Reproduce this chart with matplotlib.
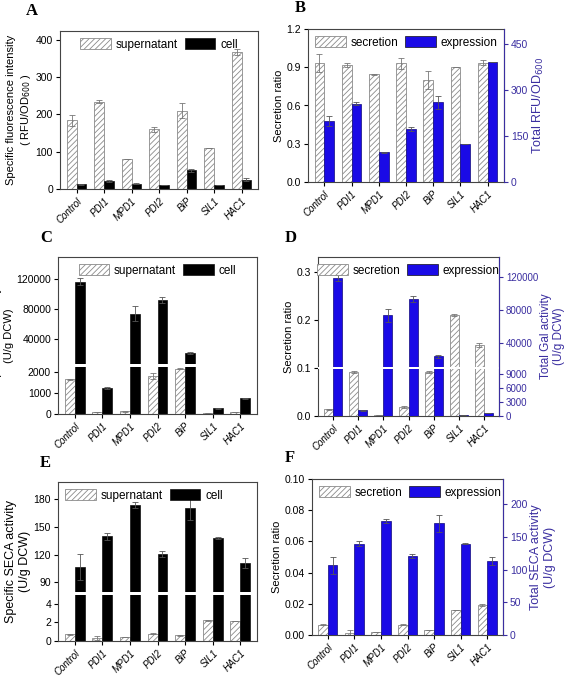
import numpy as np
import matplotlib
matplotlib.use("Agg")
import matplotlib.pyplot as plt
from matplotlib.patches import Patch

plt.rcParams['font.family'] = ['Liberation Sans', 'DejaVu Sans']
plt.rcParams['hatch.linewidth'] = 0.6
plt.rcParams['hatch.color'] = '#888888'

categories = ["Control", "PDI1", "MPD1", "PDI2", "BiP", "SIL1", "HAC1"]

A_sup = [184, 233, 80, 160, 210, 110, 366]
A_sup_err = [15, 4, 1, 7, 20, 0, 8]
A_cell = [13, 22, 14, 11, 50, 11, 25]
A_cell_err = [1, 3, 1, 1, 4, 1, 4]

B_sec = [0.93, 0.915, 0.845, 0.93, 0.80, 0.905, 0.935]
B_sec_err = [0.07, 0.015, 0.005, 0.045, 0.07, 0.0, 0.02]
B_exp = [199, 256, 97, 173, 260, 124, 392]
B_exp_err = [17, 5, 1, 6, 20, 1, 0]

C_sup = [1650, 100, 120, 1800, 2150, 60, 100]
C_sup_err = [30, 5, 5, 120, 30, 5, 5]
C_cell = [117000, 1220, 73500, 92000, 21000, 270, 750]
C_cell_err = [5000, 50, 10000, 4000, 1500, 10, 20]

D_sec = [0.014, 0.091, 0.002, 0.019, 0.091, 0.211, 0.148]
D_sec_err = [0.001, 0.002, 0.0, 0.002, 0.002, 0.002, 0.004]
D_exp = [119000, 1200, 73500, 93500, 23300, 300, 700]
D_exp_err = [4000, 50, 8000, 4000, 1500, 10, 20]

E_sup = [0.7, 0.3, 0.4, 0.8, 0.6, 2.25, 2.15]
E_sup_err = [0.05, 0.2, 0.02, 0.05, 0.05, 0.05, 0.05]
E_cell = [107, 140, 174, 121, 171, 138, 111]
E_cell_err = [14, 4, 3, 3, 13, 1, 5]

F_sec = [0.0065, 0.0015, 0.002, 0.0067, 0.0033, 0.0162, 0.0193]
F_sec_err = [0.0003, 0.0015, 0.0002, 0.0003, 0.0002, 0.0, 0.0005]
F_exp = [107, 140, 174, 121, 171, 140, 113]
F_exp_err = [13, 4, 3, 3, 13, 1, 6]

W, H = 566, 676
fig = plt.figure(figsize=(W / 100, H / 100), dpi=100)
BLUE = '#1a0ae6'
AXBLUE = '#3a2ea0'
x = np.arange(len(categories))
bw = 0.36


def add_ax(l, t, r, b):
    return fig.add_axes([l / W, 1 - b / H, (r - l) / W, (b - t) / H])


def broken_scale(ax, xs, ps, gap):
    xs = np.array(xs, float); ps = np.array(ps, float)
    fwd = lambda v: np.interp(v, xs, ps)
    inv = lambda p: np.interp(p, ps, xs)
    ax.set_yscale('function', functions=(fwd, inv))
    ax.axhspan(gap[0], gap[1], color='white', zorder=2.2, lw=0)


def style(ax, letter, lx, ly):
    ax.set_xlim(-0.6, 6.6)
    ax.set_xticks(x)
    ax.set_xticklabels(categories, rotation=45, ha='right', fontsize=7, style='italic',
                       rotation_mode='anchor')
    ax.tick_params(axis='y', labelsize=7.5, direction='out', length=3, pad=2)
    ax.tick_params(axis='x', direction='out', length=3, pad=2)
    for s in ax.spines.values():
        s.set_color('#444444'); s.set_linewidth(0.8)
    fig.text(lx / W, 1 - ly / H, letter, fontsize=12, fontweight='bold',
             family='Liberation Serif', va='center')


def hatch_bars(ax, vals, err):
    ax.bar(x - bw / 2, vals, bw, color='white', edgecolor='#8a8a8a', hatch='//////',
           linewidth=0.6, zorder=2)
    ax.errorbar(x - bw / 2, vals, yerr=err, fmt='none', ecolor='#777777', elinewidth=0.6,
                capsize=2, capthick=0.6, zorder=2.1)


def solid_bars(ax, vals, err, color):
    ax.bar(x + bw / 2, vals, bw, color=color, edgecolor='#111111' if color == 'black' else '#10087a',
           linewidth=0.5, zorder=2)
    ax.errorbar(x + bw / 2, vals, yerr=err, fmt='none', ecolor='#555555', elinewidth=0.6,
                capsize=2, capthick=0.6, zorder=2.1)


def legend(ax, labels, color, loc='upper center', bbox=None):
    h = [Patch(facecolor='white', edgecolor='#8a8a8a', hatch='//////', lw=0.6),
         Patch(facecolor=color, edgecolor='#111111', lw=0.5)]
    kw = dict(loc=loc, ncol=2, frameon=False, fontsize=8.5, handlelength=2.6,
              handleheight=1.1, columnspacing=0.6, handletextpad=0.4, borderaxespad=0.2)
    if bbox is not None:
        kw['bbox_to_anchor'] = bbox
    ax.legend(h, labels, **kw)


def right_style(ax):
    ax.tick_params(axis='y', colors=AXBLUE, labelsize=7.5, length=3, pad=2)
    ax.spines['right'].set_color(AXBLUE)
    for s in ['top', 'left', 'bottom']:
        ax.spines[s].set_visible(False)


# ---- A
ax = add_ax(60, 31, 258, 189)
hatch_bars(ax, A_sup, A_sup_err)
solid_bars(ax, A_cell, A_cell_err, 'black')
ax.set_ylim(0, 423)
ax.set_yticks([0, 100, 200, 300, 400])
ax.set_ylabel("Specific fluorescence intensity\n( RFU/OD$_{600}$ )", fontsize=8, linespacing=1.3, labelpad=2)
legend(ax, ['supernatant', 'cell'], 'black')
style(ax, 'A', 26, 11)

# ---- B
ax = add_ax(308, 29, 504, 182)
hatch_bars(ax, B_sec, B_sec_err)
ax.set_ylim(0, 1.2)
ax.set_yticks([0, 0.3, 0.6, 0.9, 1.2])
ax.set_yticklabels(['0.0', '0.3', '0.6', '0.9', '1.2'])
ax.set_ylabel("Secretion ratio", fontsize=8, labelpad=2)
style(ax, 'B', 295, 8)
ax2 = ax.twinx()
solid_bars(ax2, B_exp, B_exp_err, BLUE)
ax2.set_ylim(0, 500)
ax2.set_yticks([0, 150, 300, 450])
ax2.set_ylabel("Total RFU/OD$_{600}$", color=AXBLUE, fontsize=9, labelpad=2)
right_style(ax2)
legend(ax2, ['secretion', 'expression'], BLUE, loc='upper left', bbox=(0.0, 1.0))

# ---- C
ax = add_ax(58, 257, 257, 414)
broken_scale(ax, [0, 2250, 6000, 150000], [0, 140.6, 148, 465], (2250, 6000))
hatch_bars(ax, C_sup, C_sup_err)
solid_bars(ax, C_cell, C_cell_err, 'black')
ax.set_ylim(0, 150000)
ax.set_yticks([0, 1000, 2000, 40000, 80000, 120000])
ax.set_ylabel("Specific Gal activity\n(U/g DCW)", fontsize=8, labelpad=2)
legend(ax, ['supernatant', 'cell'], 'black')
style(ax, 'C', 40, 238)

# ---- D
ax = add_ax(318, 257, 499, 416)
hatch_bars(ax, D_sec, D_sec_err)
ax.set_ylim(0, 0.331)
ax.set_yticks([0, 0.1, 0.2, 0.3])
ax.set_yticklabels(['0.0', '0.1', '0.2', '0.3'])
ax.set_ylabel("Secretion ratio", fontsize=8, labelpad=2)
style(ax, 'D', 285, 238)
ax2 = ax.twinx()
broken_scale(ax2, [0, 10000, 10204, 145000], [0, 140, 147, 477], (10000, 10204))
solid_bars(ax2, D_exp, D_exp_err, BLUE)
ax2.set_ylim(0, 145000)
ax2.set_yticks([0, 3000, 6000, 9000, 40000, 80000, 120000])
ax2.set_ylabel("Total Gal activity\n(U/g DCW)", color=AXBLUE, fontsize=8.5, labelpad=1)
right_style(ax2)
ax2.tick_params(axis='y', labelsize=7)
legend(ax2, ['secretion', 'expression'], BLUE)

# ---- E
ax = add_ax(58, 482, 257, 641)
broken_scale(ax, [0, 5, 80, 199], [0, 139, 148, 476], (5, 80))
hatch_bars(ax, E_sup, E_sup_err)
solid_bars(ax, E_cell, E_cell_err, 'black')
ax.set_ylim(0, 199)
ax.set_yticks([0, 2, 4, 90, 120, 150, 180])
ax.set_ylabel("Specific SECA activity\n(U/g DCW)", fontsize=9, labelpad=2)
legend(ax, ['supernatant', 'cell'], 'black', loc='upper left', bbox=(0.0, 1.0))
style(ax, 'E', 40, 463)

# ---- F
ax = add_ax(312, 479, 503, 635)
hatch_bars(ax, F_sec, F_sec_err)
ax.set_ylim(0, 0.1)
ax.set_yticks([0, 0.02, 0.04, 0.06, 0.08, 0.10])
ax.set_yticklabels(['0.00', '0.02', '0.04', '0.06', '0.08', '0.10'])
ax.set_ylabel("Secretion ratio", fontsize=8, labelpad=2)
style(ax, 'F', 285, 458)
ax2 = ax.twinx()
solid_bars(ax2, F_exp, F_exp_err, BLUE)
ax2.set_ylim(0, 239)
ax2.set_yticks([0, 50, 100, 150, 200])
ax2.set_ylabel("Total SECA activity\n(U/g DCW)", color=AXBLUE, fontsize=9, labelpad=2)
right_style(ax2)
legend(ax2, ['secretion', 'expression'], BLUE, loc='upper left', bbox=(0.0, 1.0))

fig.savefig("out.png", dpi=100, facecolor='white')
